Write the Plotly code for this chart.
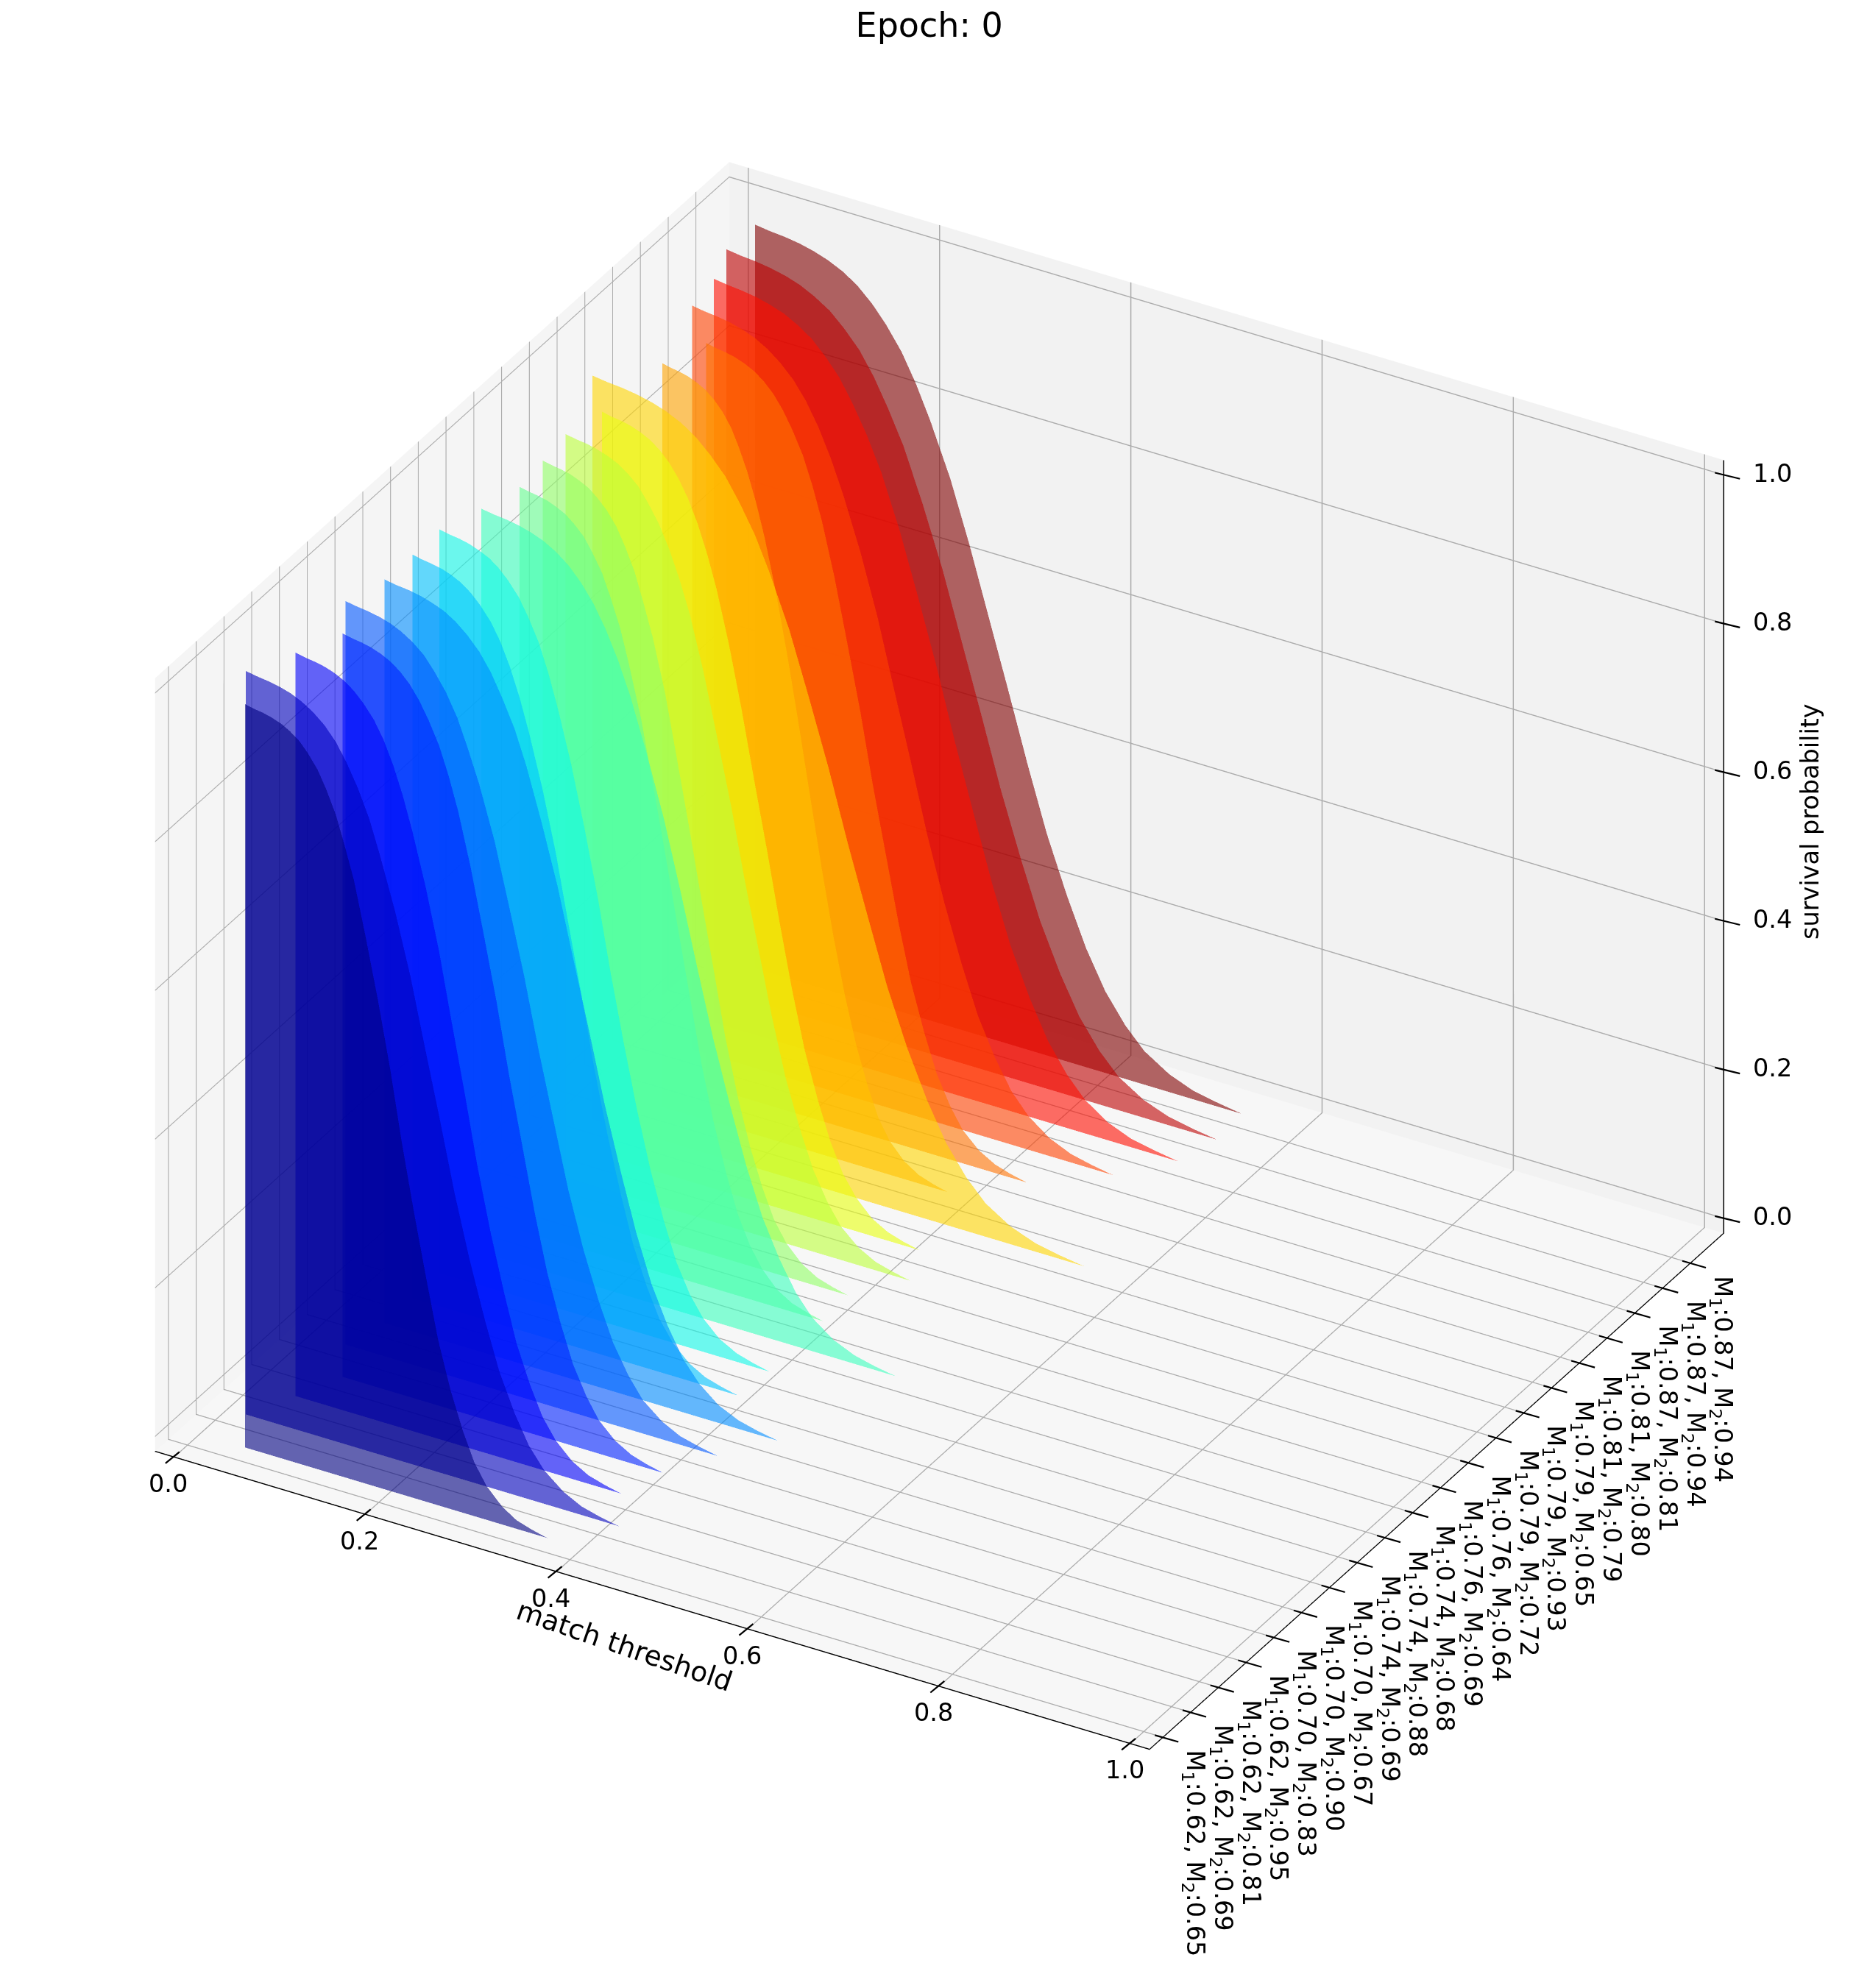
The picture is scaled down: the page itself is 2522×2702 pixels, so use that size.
import plotly.graph_objects as go

m1 = ["0.62","0.62","0.62","0.62","0.70","0.70","0.70","0.74","0.74","0.74","0.76","0.76","0.79","0.79","0.79","0.81","0.81","0.87","0.87","0.87"]
m2 = ["0.65","0.69","0.81","0.95","0.83","0.90","0.67","0.69","0.88","0.68","0.69","0.64","0.72","0.93","0.65","0.79","0.80","0.81","0.94","0.94"]
survival = [1.0,.9973,.9955,.9926,.988,.9816,.972,.959,.941,.918,.888,.851,.807,.737,.656,.567,.474,.383,.298,.223,.16,.11,.072,.045,.024,.0115,.005,0.0]

# match threshold at which each series reaches the survival values above
s00=[.060,.069,.079,.088,.098,.107,.117,.126,.136,.145,.155,.164,.174,.186,.199,.212,.224,.237,.250,.262,.275,.288,.300,.313,.329,.344,.360,.376]
s01=[.032,.044,.055,.067,.079,.090,.102,.114,.126,.137,.149,.161,.172,.188,.204,.219,.235,.250,.266,.282,.297,.313,.328,.344,.364,.383,.402,.422]
s02=[.055,.065,.075,.086,.096,.106,.116,.126,.137,.147,.157,.167,.177,.191,.205,.218,.232,.245,.259,.273,.286,.300,.313,.327,.344,.361,.378,.395]
s03=[.075,.085,.095,.105,.115,.125,.135,.145,.155,.165,.176,.186,.196,.209,.222,.236,.249,.263,.276,.289,.303,.316,.330,.343,.360,.377,.393,.410]
s04=[.049,.061,.072,.084,.096,.107,.119,.131,.142,.154,.166,.177,.189,.205,.220,.236,.251,.267,.282,.298,.314,.329,.345,.360,.380,.399,.419,.438]
s05=[.061,.073,.086,.098,.110,.123,.135,.147,.160,.172,.184,.197,.209,.225,.242,.258,.275,.291,.308,.324,.340,.357,.373,.390,.410,.431,.451,.472]
s06=[.061,.071,.081,.092,.102,.112,.122,.132,.143,.153,.163,.173,.183,.197,.211,.224,.238,.251,.265,.279,.292,.306,.319,.333,.350,.367,.384,.401]
s07=[.060,.070,.081,.091,.101,.112,.122,.132,.143,.153,.164,.174,.184,.198,.212,.226,.239,.253,.267,.281,.295,.308,.322,.336,.353,.371,.388,.405]
s08=[.075,.088,.101,.114,.127,.140,.153,.166,.179,.192,.205,.218,.231,.248,.266,.283,.300,.317,.335,.352,.369,.387,.404,.421,.443,.465,.486,.508]
s09=[.086,.096,.105,.115,.124,.134,.143,.153,.162,.172,.181,.191,.200,.213,.225,.238,.251,.264,.276,.289,.302,.314,.327,.340,.355,.371,.387,.403]
s10=[.081,.091,.100,.110,.119,.129,.138,.148,.158,.167,.177,.186,.196,.209,.221,.234,.247,.260,.272,.285,.298,.311,.323,.336,.352,.368,.384,.400]
s11=[.076,.087,.098,.108,.119,.130,.141,.152,.162,.173,.184,.195,.206,.220,.234,.249,.263,.278,.292,.306,.321,.335,.350,.364,.382,.400,.418,.436]
s12=[.085,.095,.105,.115,.125,.135,.145,.155,.165,.175,.185,.195,.205,.218,.231,.244,.258,.271,.284,.297,.311,.324,.337,.351,.367,.384,.400,.417]
s13=[.046,.061,.077,.092,.108,.123,.139,.154,.169,.185,.200,.216,.231,.252,.272,.293,.313,.334,.354,.375,.396,.416,.437,.457,.483,.509,.534,.560]
s14=[.090,.099,.108,.117,.126,.135,.144,.153,.162,.170,.179,.188,.197,.209,.221,.233,.245,.257,.269,.281,.293,.305,.316,.328,.343,.358,.373,.388]
s15=[.107,.117,.127,.137,.147,.157,.167,.177,.187,.197,.208,.218,.228,.241,.254,.268,.281,.295,.308,.321,.335,.348,.362,.375,.392,.409,.425,.442]
s16=[.063,.076,.089,.103,.116,.129,.142,.155,.169,.182,.195,.208,.221,.239,.257,.274,.292,.309,.327,.345,.362,.380,.397,.415,.437,.459,.481,.503]
s17=[.057,.072,.086,.101,.115,.130,.144,.159,.173,.188,.202,.217,.232,.251,.270,.290,.309,.329,.348,.367,.387,.406,.426,.445,.469,.493,.518,.542]
s18=[.041,.056,.072,.087,.103,.118,.133,.149,.164,.180,.195,.210,.226,.246,.267,.287,.308,.328,.349,.369,.390,.410,.431,.451,.477,.503,.528,.554]
s19=[.042,.057,.073,.088,.103,.118,.134,.149,.164,.179,.195,.210,.225,.246,.266,.286,.307,.327,.347,.368,.388,.408,.429,.449,.475,.500,.526,.551]
series = [s00,s01,s02,s03,s04,s05,s06,s07,s08,s09,s10,s11,s12,s13,s14,s15,s16,s17,s18,s19]

colors = ["#000080","#0000bc","#0000f9","#0021ff","#0057ff","#008dff","#00c3ff","#0ff8e8","#3affbc","#66ff91","#91ff66","#bcff3a","#e8ff0f","#ffd500","#ffa300","#ff7200","#ff4100","#ff0e00","#bc0000","#800000"]
tick_vals = [0,.2,.4,.6,.8,1]
tick_text = ["0.0","0.2","0.4","0.6","0.8","1.0"]
XR=[-0.02,1.02]; YR=[-0.48,20.2]; ZR=[-0.02,1.02]
ticktext = [f"M<sub>1</sub>:{a}, M<sub>2</sub>:{b}" for a, b in zip(m1, m2)]

fig = go.Figure()
n = len(survival)
for i in range(19, -1, -1):
    xs = series[i]
    fig.add_trace(go.Mesh3d(
        x=xs+xs, y=[i]*(2*n), z=survival+[0]*n,
        i=[k for k in range(n-1)]+[k+1 for k in range(n-1)],
        j=[k+1 for k in range(n-1)]+[k+1+n for k in range(n-1)],
        k=[k+n for k in range(n-1)]+[k+n for k in range(n-1)],
        color=colors[i], opacity=0.6, hoverinfo="skip", flatshading=True,
        lighting=dict(ambient=1, diffuse=0, specular=0, fresnel=0, roughness=1),
    ))
fig.add_trace(go.Scatter3d(x=[XR[1]]*2, y=[YR[1]]*2, z=ZR, mode="lines", line=dict(color="black", width=3), hoverinfo="skip"))

font = dict(family="DejaVu Sans", size=33.5, color="black")
def ax(**k):
    d = dict(showgrid=True, gridcolor="rgb(172,172,172)", gridwidth=3, showbackground=True, showticklabels=False,
             showline=True, linecolor="black", linewidth=3, ticks="",
             zeroline=False, showspikes=False, title=dict(text=""))
    d.update(k); return d

tick = dict(showarrow=True, arrowhead=0, arrowwidth=2.2, arrowcolor="black", standoff=0, startstandoff=0)
ann = []
for v, t in zip(tick_vals, tick_text):
    ann.append(dict(x=v, y=YR[0], z=ZR[0], xshift=7, yshift=7, ax=-22, ay=18, **tick))
    ann.append(dict(x=XR[1], y=YR[1], z=v, xshift=-12, yshift=3, ax=37, ay=9, **tick))
    ann.append(dict(x=v, y=YR[0], z=ZR[0], text=t, showarrow=False, font=font, xanchor="center", yanchor="middle", yshift=-36, xshift=-8))
    ann.append(dict(x=XR[1], y=YR[1], z=v, text=t, showarrow=False, font=font, xanchor="center", yanchor="middle", xshift=66, yshift=2))
for i, t in enumerate(ticktext):
    ann.append(dict(x=XR[1], y=i, z=ZR[0], xshift=-11, yshift=3, ax=35, ay=10, **tick))
    ann.append(dict(x=XR[1], y=i, z=ZR[0], text=t, showarrow=False, font=font, textangle=90, xanchor="center", yanchor="top", xshift=42, yshift=-15))
ann.append(dict(x=0.5, y=YR[0], z=ZR[0], text="match threshold", showarrow=False, font=dict(family="DejaVu Sans", size=37.5, color="black"), textangle=19, xshift=-38, yshift=-62))
ann.append(dict(x=XR[1], y=YR[1], z=0.5, text="survival probability", showarrow=False, font=dict(family="DejaVu Sans", size=33.5, color="black"), textangle=-90, xshift=117, yshift=34))

fig.update_layout(
    width=2522, height=2702, paper_bgcolor="white", margin=dict(l=0,r=0,t=0,b=0), showlegend=False,
    title=dict(text="Epoch: 0", x=0.4975, xanchor="center", y=0.9965, yanchor="top", font=dict(family="DejaVu Sans", size=46, color="black")),
    scene=dict(
        domain=dict(x=[0.006,1], y=[0,1]),
        aspectmode="manual", aspectratio=dict(x=1.155,y=1.155,z=0.91),
        camera=dict(projection=dict(type="orthographic"), eye=dict(x=0.866,y=-1.5,z=1.0), center=dict(x=0,y=0,z=-0.052), up=dict(x=0,y=0,z=1)),
        xaxis=ax(range=XR, tickvals=tick_vals, backgroundcolor="rgb(245,245,245)"),
        yaxis=ax(range=YR, tickvals=list(range(20)), backgroundcolor="rgb(242,242,242)"),
        zaxis=ax(range=ZR, tickvals=tick_vals, backgroundcolor="rgb(247,247,247)", showline=False),
        annotations=ann,
    ),
)
fig.write_html("out.html")
